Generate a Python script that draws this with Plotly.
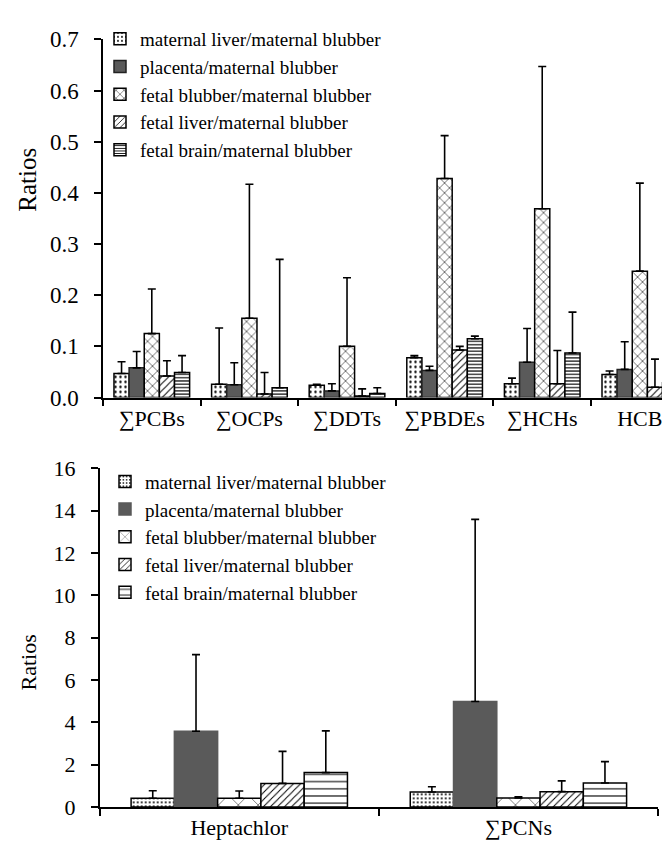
import plotly.graph_objects as go

# ---------------- data ----------------
series_names = [
    "maternal liver/maternal blubber",
    "placenta/maternal blubber",
    "fetal blubber/maternal blubber",
    "fetal liver/maternal blubber",
    "fetal brain/maternal blubber",
]

categories_top = ["∑PCBs", "∑OCPs", "∑DDTs", "∑PBDEs", "∑HCHs", "HCB"]
ml_top = [0.047, 0.026, 0.024, 0.078, 0.027, 0.045]
pl_top = [0.058, 0.025, 0.013, 0.053, 0.069, 0.055]
fb_top = [0.125, 0.155, 0.100, 0.428, 0.369, 0.247]
fl_top = [0.042, 0.007, 0.003, 0.093, 0.027, 0.020]
fbr_top = [0.049, 0.019, 0.008, 0.115, 0.087, 0.029]
ml_top_sd = [0.023, 0.110, 0.002, 0.004, 0.011, 0.007]
pl_top_sd = [0.032, 0.043, 0.014, 0.008, 0.066, 0.054]
fb_top_sd = [0.087, 0.262, 0.134, 0.084, 0.278, 0.172]
fl_top_sd = [0.030, 0.042, 0.014, 0.007, 0.065, 0.055]
fbr_top_sd = [0.033, 0.251, 0.011, 0.005, 0.080, 0.011]

categories_bot = ["Heptachlor", "∑PCNs"]
ml_bot = [0.42, 0.71]
pl_bot = [3.58, 4.99]
fb_bot = [0.42, 0.43]
fl_bot = [1.12, 0.73]
fbr_bot = [1.63, 1.14]
ml_bot_sd = [0.35, 0.25]
pl_bot_sd = [3.62, 8.60]
fb_bot_sd = [0.34, 0.06]
fl_bot_sd = [1.51, 0.51]
fbr_bot_sd = [1.97, 1.01]

top_tickvals = [0, 0.1, 0.2, 0.3, 0.4, 0.5, 0.6, 0.7]
bot_tickvals = [0, 2, 4, 6, 8, 10, 12, 14, 16]
y_title = "Ratios"

# ---------------- styles ----------------
FONT = "Liberation Serif"
GRAY = "#5a5a5a"

top_styles = [
    dict(shape=".", size=5, solidity=0.18, fill="white", line="black"),
    dict(shape="", size=8, solidity=0.3, fill=GRAY, line="#222222"),
    dict(shape="x", size=7, solidity=0.15, fill="white", line="black"),
    dict(shape="/", size=5, solidity=0.2, fill="white", line="black"),
    dict(shape="-", size=3.3, solidity=0.35, fill="white", line="black"),
]
bot_styles = [
    dict(shape=".", size=4, solidity=0.2, fill="white", line="black"),
    dict(shape="", size=8, solidity=0.3, fill=GRAY, line=GRAY),
    dict(shape="x", size=14, solidity=0.07, fill="white", line="black"),
    dict(shape="/", size=5, solidity=0.2, fill="white", line="black"),
    dict(shape="-", size=7.2, solidity=0.15, fill="white", line="black"),
]

top_vals = [ml_top, pl_top, fb_top, fl_top, fbr_top]
top_sds = [ml_top_sd, pl_top_sd, fb_top_sd, fl_top_sd, fbr_top_sd]
bot_vals = [ml_bot, pl_bot, fb_bot, fl_bot, fbr_bot]
bot_sds = [ml_bot_sd, pl_bot_sd, fb_bot_sd, fl_bot_sd, fbr_bot_sd]

fig = go.Figure()


def add_bar(cats, vals, sds, st, name, xa, ya, legend):
    pattern = dict(shape=st["shape"], size=st["size"], solidity=st["solidity"],
                   fgcolor="black", bgcolor=st["fill"], fillmode="replace")
    fig.add_trace(go.Bar(
        x=cats, y=vals, name=name, xaxis=xa, yaxis=ya, legend=legend,
        marker=dict(color=st["fill"], line=dict(color=st["line"], width=1.5),
                    pattern=pattern),
        error_y=dict(type="data", symmetric=False, array=sds,
                     arrayminus=[0] * len(sds), color="black",
                     thickness=1.6, width=4),
    ))


for name, v, s, st in zip(series_names, top_vals, top_sds, top_styles):
    add_bar(categories_top, v, s, st, name, "x", "y", "legend")
for name, v, s, st in zip(series_names, bot_vals, bot_sds, bot_styles):
    add_bar(categories_bot, v, s, st, name, "x2", "y2", "legend2")

W, H = 670, 848
axis_common = dict(showline=True, linecolor="black", linewidth=1.5,
                   ticks="outside", ticklen=7, tickwidth=1.5, tickcolor="black",
                   showgrid=False, zeroline=False)
xfont = dict(family=FONT, size=22, color="black")

fig.update_layout(
    width=W, height=H,
    margin=dict(l=0, r=0, t=0, b=0),
    paper_bgcolor="white", plot_bgcolor="white",
    barmode="group", bargap=0.225, bargroupgap=0,
    font=dict(family=FONT, color="black"),
    xaxis=dict(domain=[95 / W, 1.0], anchor="y", range=[-0.5, 5.391],
               tickson="boundaries", tickfont=xfont, **axis_common),
    yaxis=dict(domain=[(H - 389) / H, (H - 20) / H], anchor="x",
               range=[0, 0.7], tickvals=top_tickvals, tickformat=".1f",
               ticklabelstandoff=11,
               tickfont=dict(family=FONT, size=23, color="black"),
               **axis_common),
    xaxis2=dict(domain=[91.7 / W, 650 / W], anchor="y2", range=[-0.5, 1.5],
                tickson="boundaries", tickfont=xfont, **axis_common),
    yaxis2=dict(domain=[(H - 811) / H, (H - 462) / H], anchor="x2",
                range=[0, 16], tickvals=bot_tickvals,
                ticklabelstandoff=11,
                tickfont=dict(family=FONT, size=22, color="black"),
                **axis_common),
    legend=dict(x=92 / W, y=1.0, xanchor="left", yanchor="top",
                bgcolor="rgba(0,0,0,0)", font=dict(family=FONT, size=19, color="black"),
                itemwidth=30, tracegroupgap=0),
    legend2=dict(x=97 / W, y=(H - 456) / H, xanchor="left", yanchor="top",
                 bgcolor="rgba(0,0,0,0)", font=dict(family=FONT, size=19, color="black"),
                 itemwidth=30, tracegroupgap=0),
    showlegend=True,
    annotations=[
        dict(text=y_title, xref="paper", yref="paper", x=20 / W, y=(H - 164.5) / H,
             textangle=-90, showarrow=False, xanchor="center", yanchor="middle",
             font=dict(family=FONT, size=25, color="black")),
        dict(text=y_title, xref="paper", yref="paper", x=20 / W, y=(H - 662) / H,
             textangle=-90, showarrow=False, xanchor="center", yanchor="middle",
             font=dict(family=FONT, size=22, color="black")),
    ],
)

fig.write_html("out.html")
